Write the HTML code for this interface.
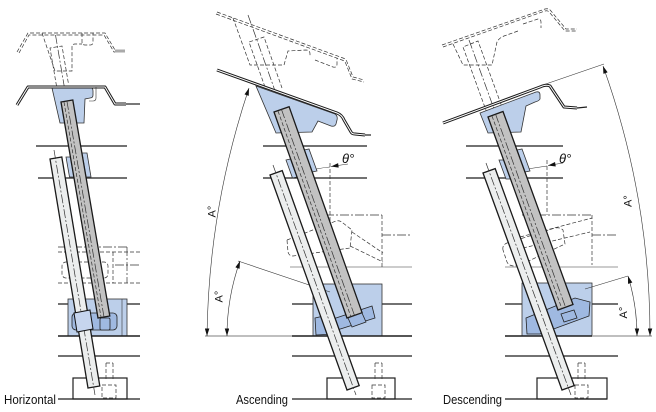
<!DOCTYPE html>
<html><head><meta charset="utf-8">
<style>
html,body{margin:0;padding:0;background:#fff;}
svg{display:block;}
text{font-family:"Liberation Sans",sans-serif;fill:#111;}
.ln{stroke:#1e1e1e;stroke-width:1.2;fill:none}
.bl{stroke:#1e1e1e;stroke-width:1.5;fill:none}
.th{stroke:#333;stroke-width:0.6;fill:none}
.ph{stroke:#333;stroke-width:0.7;fill:none;stroke-dasharray:4 2}
.cl{stroke:#333;stroke-width:0.7;fill:none;stroke-dasharray:9 2 2 2}
.blue{fill:#bccfea;stroke:#333;stroke-width:0.8}
.dblue{fill:#9fb9e1;stroke:#222;stroke-width:0.8}
.rod{fill:#c2c2c2;stroke:#1a1a1a;stroke-width:1.3}
.lrod{fill:#eceeee;stroke:#1a1a1a;stroke-width:1.3}
.sh1{stroke:#1a1a1a;stroke-width:3;fill:none;stroke-linejoin:round}
.sh2{stroke:#fff;stroke-width:1;fill:none;stroke-linejoin:round}
.gr{stroke:#aaa;stroke-width:1.6;fill:none}
.wb{fill:#fff;stroke:#1e1e1e;stroke-width:1.2}
</style></head><body>
<svg width="656" height="412" viewBox="0 0 656 412" xmlns="http://www.w3.org/2000/svg">
<defs>
<marker id="ar" viewBox="0 0 10 6" refX="10" refY="3" markerWidth="8" markerHeight="4.5" markerUnits="userSpaceOnUse" orient="auto-start-reverse"><path d="M0,0 L10,3 L0,6 Z" fill="#111"/></marker>
</defs>

<!-- ================= PANEL 1 : Horizontal ================= -->
<path class="ph" d="M17,52 L28,33 L105,33 L115,50 L122,50"/>
<path class="ph" d="M19,53 L29,35 L104,35 L114,52 L122,52"/>
<line x1="115" y1="51" x2="125" y2="51" stroke="#aaa" stroke-width="3"/>
<path class="ph" d="M42,33 L55,71 L72,71 L72,47 Q72,44 75,44 L82,44"/>
<path class="ph" d="M82,33 L82,42 Q82,45 85,45 L90,45 Q93,45 93,42 L93,33"/>
<path class="ph" d="M56.5,86 L50,48 L62,46 L68.5,84"/>
<path class="cl" d="M55.5,35 L106,332"/>

<path class="blue" d="M52,88 L91,88 Q93,88 93,91 L93,95 Q93,98 90,98 L85,99 L84,123 L60,123 Z"/>
<path class="sh1" d="M17,105 L28,87 L105,87 L115,104 L126,104"/>
<path class="sh2" d="M17,105 L28,87 L105,87 L115,104 L126,104"/>
<path class="ln" d="M126,104 L140,104"/>
<path class="th" d="M96,87 L96,98 Q96,101 93,101 L89,101"/>

<path class="ln" d="M36,146 H127 M38,178 H127"/>

<path class="ph" d="M58,252 H140 M58,283 H140 M113,252 V283"/>
<path class="cl" d="M115,265 H140 M127,247 V283 M58,247 H127"/>
<rect class="ph" x="62" y="262" width="46" height="16" rx="4"/>

<path class="ln" d="M58,304 H68 M127,304 H140"/>
<rect class="blue" x="68" y="299" width="59" height="37"/>
<path class="th" d="M122,299 V336"/>
<rect class="dblue" x="72" y="313" width="45" height="17" rx="4"/>
<path class="bl" d="M58,336 H140"/>
<path class="ln" d="M58,356 H140"/>
<rect class="wb" x="73" y="378" width="54" height="21"/>
<path class="ph" d="M106,363 V380 M113,363 V380 M106,363 H113"/>
<rect class="ph" x="102" y="385" width="14" height="13"/>
<path class="ln" d="M58,399 H140"/>
<text x="4" y="404" font-size="12.5" textLength="52" lengthAdjust="spacingAndGlyphs">Horizontal</text>

<polygon class="lrod" points="50,159 61.8,157 99.8,386 88,388"/>
<path class="cl" d="M54,150 L95,395"/>
<polygon class="blue" points="66,157 70.5,157 74,177 69.5,177"/>
<polygon class="blue" points="82,153 87,153 91,177 86,177"/>
<polygon class="rod" points="61,102 72.8,100 109.8,316 98,318"/>
<path class="cl" d="M66.9,101 L104,317"/>
<path class="ph" d="M64,102 L101,317"/>
<polygon fill="#c6d5ee" stroke="#111" stroke-width="1" points="74,313 90,310 93,329 77,332"/>
<rect class="dblue" x="100" y="318" width="10" height="12" rx="1.5"/>

<!-- ================= PANEL 2 : Ascending ================= -->
<path class="ph" d="M217,12 L343,58 Q346,59 347,62 L353,77 L364,80"/>
<path class="ph" d="M216,14 L342,60 Q345,61 346,64 L352,79 L364,82"/>
<path class="ph" d="M233,18 L250,65 L284,65 L288,51 L306,50 Q310,50 310,54 L310,56"/>
<path class="ph" d="M315,60 L333,67 Q337,68 337,64 L337,58"/>
<path class="ph" d="M265,87 L249,42 L264,37 L282,88"/>
<path class="cl" d="M248,15 L362,335"/>

<path class="blue" d="M256,86 L335,114 Q338,116 337,120 L336,124 Q335,127 331,126 L318,121 L312,132 L276,133 Z"/>
<path class="sh1" d="M217,70 L337,113 Q342,115 344,120 L351,132 Q352,134 355,134 L365,135"/>
<path class="sh2" d="M217,70 L337,113 Q342,115 344,120 L351,132 Q352,134 355,134 L365,135"/>
<path class="ln" d="M365,135 L371,135"/>

<path class="ln" d="M263,146 H367 M263,178 H367"/>

<path class="ph" d="M330,163 V222"/>
<path class="th" d="M305,172 Q318,168 330,167" marker-start="url(#ar)"/>
<path class="th" d="M348,164 L331,166.5" marker-end="url(#ar)"/>
<text x="342" y="163" font-size="13" font-style="italic">θ°</text>

<path class="cl" d="M310,215 H382 M382,235 H412"/>
<path class="ph" d="M382,215 V267 M352,232 L383,253 M350,246 L383,262"/>
<path class="th" d="M290,267 H412"/>
<path class="ph" d="M287,240 L336,221 Q340,220 343,223 L352,230 L350,248 L293,256 Q289,256 288,252 Z"/>

<path class="ln" d="M292,304 H313 M382,304 H412"/>
<rect class="blue" x="313" y="284" width="69" height="52"/>
<polygon class="dblue" points="330,320 372,306 375,318 334,331"/>
<polygon class="dblue" points="315,318 328,315 335,334 316,335"/>
<path class="th" d="M238,261 L330,292"/>
<path class="gr" d="M205,336 H292"/>
<path class="bl" d="M292,336 H412"/>
<path class="ln" d="M292,356 H412"/>
<rect class="wb" x="327" y="378" width="68" height="21"/>
<path class="ph" d="M375,363 V380 M382,363 V380 M375,363 H382"/>
<rect class="ph" x="372" y="385" width="13" height="13"/>
<path class="ln" d="M292,399 H412"/>
<text x="236" y="404" font-size="12.5" textLength="52" lengthAdjust="spacingAndGlyphs">Ascending</text>

<path class="th" d="M249,88 A815,815 0 0 0 207,336" marker-start="url(#ar)" marker-end="url(#ar)"/>
<path class="th" d="M240,261 A223,223 0 0 0 227,336" marker-start="url(#ar)" marker-end="url(#ar)"/>
<text transform="translate(215.5,217.5) rotate(-90)" font-size="11">A°</text>
<text transform="translate(222.5,302.5) rotate(-90)" font-size="11">A°</text>

<polygon class="lrod" points="270,175 282.2,170.6 359.2,385.6 347,390"/>
<path class="cl" d="M273,165 L356,395"/>
<polygon class="blue" points="286,160 290.5,159 297,177 292.5,178"/>
<polygon class="blue" points="304,150 309,149 317,171 312,172"/>
<polygon class="rod" points="274,112 289.1,106.7 362.1,312.7 347,318"/>
<path class="cl" d="M281.5,109.5 L354.5,315.5"/>
<path class="ph" d="M278,111 L351,317"/>
<polygon class="dblue" points="348,318 362,313 366,322 352,327"/>

<!-- ================= PANEL 3 : Descending ================= -->
<path class="ph" d="M442,45 L545,9 Q549,8 551,11 L566,29 L577,29"/>
<path class="ph" d="M443,47 L545,11 Q548,10 550,13 L565,31 L577,31"/>
<path class="ph" d="M523,24 L538,19 Q541,19 541,22 L541,28"/>
<path class="ph" d="M453,44 L463,65 L492,65 L497,42 Q499,38 504,36 L518,31"/>
<path class="ph" d="M487,113 L463,47 L478,41 L502,107"/>
<path class="cl" d="M469,40 L576,335"/>

<path class="blue" d="M480,113 L536,92 Q540,91 540,95 L540,99 Q539,101 535,102 L526,106 L521,132 L488,133 Z"/>
<path class="sh1" d="M443,123 L540,87 Q546,84 550,86 L564,107 L577,108"/>
<path class="sh2" d="M443,123 L540,87 Q546,84 550,86 L564,107 L577,108"/>
<path class="ln" d="M577,108 L587,107"/>

<path class="ln" d="M466,146 H563 M466,178 H563"/>

<path class="ph" d="M547,160 V215"/>
<path class="th" d="M518,171 Q532,168 547,166" marker-start="url(#ar)"/>
<path class="th" d="M563,163 L548,165.5" marker-end="url(#ar)"/>
<text x="559" y="163" font-size="13" font-style="italic">θ°</text>

<path class="cl" d="M522,215 H592 M592,235 H618"/>
<path class="ph" d="M592,215 V265 M520,237 L592,218 M523,248 L590,232"/>
<path class="th" d="M505,267 H618"/>
<path class="ph" d="M503,250 Q502,245 507,243 L555,228 Q560,227 563,230 L565,244 L520,265 Q510,268 507,262 Z"/>

<path class="ln" d="M505,304 H522 M592,304 H618"/>
<rect class="blue" x="522" y="283" width="70" height="53"/>
<polygon class="dblue" points="526,318 575,298 590,302 589,316 540,334 527,334"/>
<path class="th" d="M585,289 L628,276"/>
<path class="bl" d="M505,336 H592"/>
<path class="gr" d="M592,336 H652"/>
<path class="ln" d="M505,356 H618"/>
<rect class="wb" x="537" y="378" width="70" height="21"/>
<path class="ph" d="M578,363 V380 M585,363 V380 M578,363 H585"/>
<rect class="ph" x="575" y="385" width="13" height="13"/>
<path class="ln" d="M505,399 H607"/>
<text x="443" y="404" font-size="12.5" textLength="59" lengthAdjust="spacingAndGlyphs">Descending</text>

<path class="th" d="M540,86 L604,64"/>
<path class="th" d="M603,66 A799,799 0 0 1 650,336" marker-start="url(#ar)" marker-end="url(#ar)"/>
<path class="th" d="M628,276 A204,204 0 0 1 637,336" marker-start="url(#ar)" marker-end="url(#ar)"/>
<text transform="translate(631.5,207) rotate(-90)" font-size="11">A°</text>
<text transform="translate(627,318.5) rotate(-90)" font-size="11">A°</text>

<polygon class="lrod" points="483,173 495.2,168.6 574.2,385.6 562,390"/>
<path class="cl" d="M486,163 L571,395"/>
<polygon class="blue" points="499,160 503.6,160 510.5,179 506,179"/>
<polygon class="blue" points="517,150 522,149 530,171 525,172"/>
<polygon class="rod" points="488,117 503,111.5 573,304.5 558,310"/>
<path class="cl" d="M495.5,114 L565.5,307"/>
<path class="ph" d="M492,116 L562,309"/>
<polygon class="dblue" points="561,314 574,310 577,318 564,322"/>

</svg>
</body></html>
